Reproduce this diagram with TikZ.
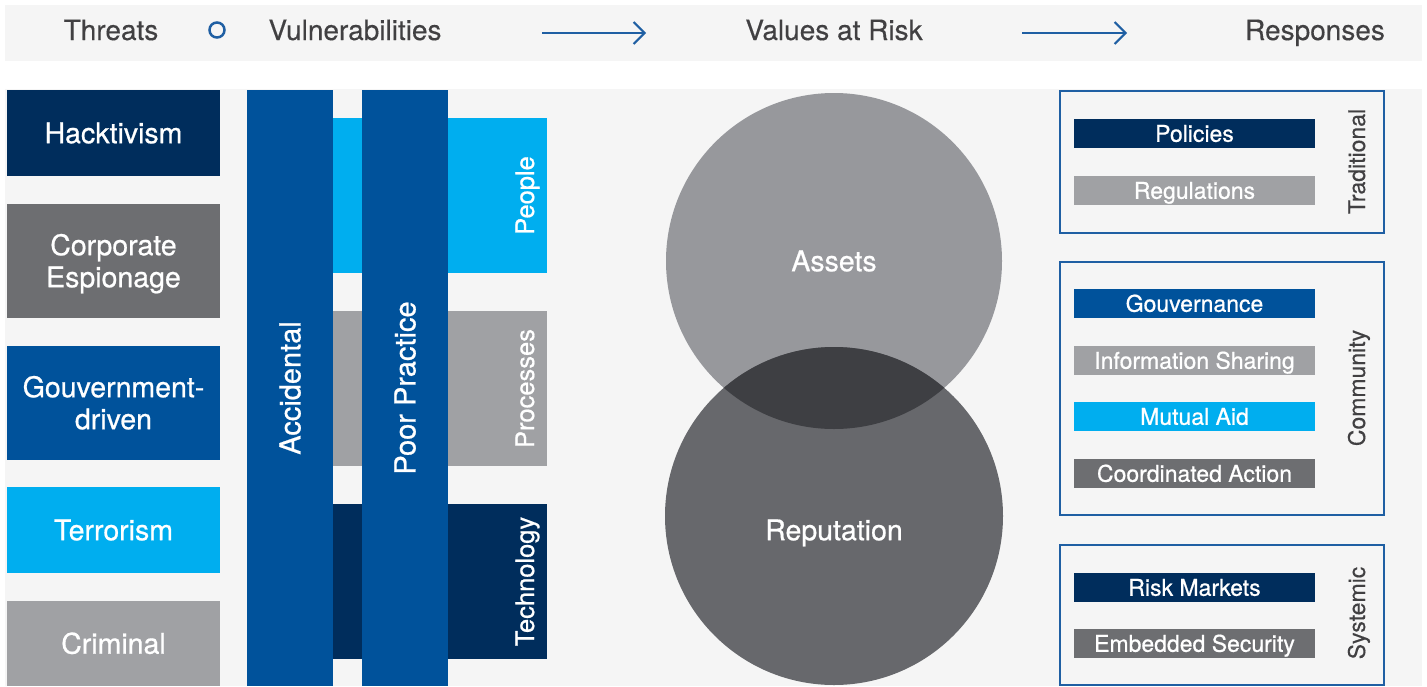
\documentclass[tikz,border=0pt]{standalone}
\usepackage{fontspec}
\setmainfont{TeX Gyre Heros}
\newfontfamily\medf[FakeBold=0.7]{TeX Gyre Heros}
\newfontfamily\hedf[FakeBold=0.3]{TeX Gyre Heros}
\usetikzlibrary{arrows.meta}
\definecolor{navy}{HTML}{002D5C}
\definecolor{blu}{HTML}{00529B}
\definecolor{cyn}{HTML}{00AEEF}
\definecolor{lgray}{HTML}{A0A1A4}
\definecolor{dgray}{HTML}{6D6E71}
\definecolor{bgc}{HTML}{F5F5F5}
\definecolor{txtc}{HTML}{414042}
\definecolor{framec}{HTML}{1F5FA3}
\definecolor{assetc}{HTML}{97989C}
\definecolor{repc}{HTML}{67686C}
\definecolor{overc}{HTML}{3E3F43}
\begin{document}
\begin{tikzpicture}[x=1pt,y=-1pt,
  mfs/.style={font=\medf\fontsize{#1}{#1}\selectfont},
  blk/.style={rectangle,inner sep=0pt,outer sep=0pt,text=white,align=center},
  threat/.style={blk,minimum width=213pt,font=\medf\fontsize{28.5}{32}\selectfont,text height=20.4pt,text depth=0pt},
  threat2/.style={blk,minimum width=213pt,font=\medf\fontsize{28.5}{32}\selectfont,text height=52.4pt,text depth=0pt},
  hbar/.style={blk,minimum width=214pt,minimum height=155pt},
  vbar/.style={blk,fill=blu,minimum width=86pt,minimum height=596pt},
  vlab/.style={rotate=90,text=white,inner sep=0pt,mfs=25.5,anchor=base},
  tall/.style={rotate=90,text=white,inner sep=0pt,mfs=29,text height=20.8pt,text depth=0pt},
  resp/.style={blk,minimum width=241pt,minimum height=29pt,mfs=23,text height=16.5pt,text depth=0pt},
  frm/.style={rectangle,draw=framec,line width=2.5pt,minimum width=324pt,inner sep=0pt},
  slab/.style={rotate=90,text=txtc,inner sep=0pt,font=\hedf\fontsize{23}{23}\selectfont,anchor=base},
  head/.style={text=txtc,inner sep=0pt,font=\hedf\fontsize{28}{28}\selectfont,text height=20pt,text depth=0pt},
  harrow/.style={draw=framec,line width=2pt,-{Straight Barb[length=11pt,width=22pt]}},
  clab/.style={text=white,inner sep=0pt,mfs=28.5,text height=20.4pt,text depth=0pt}]
\useasboundingbox (0,0) rectangle (1427,686);
\fill[white] (0,0) rectangle (1427,686);
% header
\fill[bgc] (5,5) rectangle (1422,61);
\node[head] (hthreat) at (111,30) {Threats};
\node[circle,draw=framec,line width=2.5pt,minimum size=15pt,inner sep=0pt] (hcirc) at (217,30) {};
\node[head] (hvuln) at (355,30) {Vulnerabilities};
\node[head] (hval) at (834,30) {Values at Risk};
\node[head] (hresp) at (1315,30) {Responses};
\coordinate (a1s) at (542,33);
\coordinate (a1e) at (646,33);
\coordinate (a2s) at (1022,33);
\coordinate (a2e) at (1127,33);
\draw[harrow] (a1s) -- (a1e);
\draw[harrow] (a2s) -- (a2e);
% main background
\fill[bgc] (5,89) rectangle (1422,686);
% threats
\node[threat,fill=navy,minimum height=86pt] (hack) at (113.5,133) {Hacktivism};
\node[threat2,fill=dgray,minimum height=114pt] (corp) at (113.5,261) {Corporate\\Espionage};
\node[threat2,fill=blu,minimum height=114pt] (gov) at (113.5,403) {Gouvernment-\\driven};
\node[threat,fill=cyn,minimum height=86pt] (terr) at (113.5,530) {Terrorism};
\node[threat,fill=lgray,minimum height=85pt] (crim) at (113.5,643.5) {Criminal};
% vulnerabilities
\node[hbar,fill=cyn] (people) at (440,195.5) {};
\node[hbar,fill=lgray] (proc) at (440,388.5) {};
\node[hbar,fill=navy] (tech) at (440,581.5) {};
\node[vlab] (lpeople) at (534,195.5) {People};
\node[vlab] (lproc) at (534,388.5) {Processes};
\node[vlab] (ltech) at (534,581.5) {Technology};
\node[vbar] (acc) at (290,388) {};
\node[vbar] (poor) at (405,388) {};
\node[tall] (lacc) at (290,388) {Accidental};
\node[tall] (lpoor) at (405,388) {Poor Practice};
% values at risk
\node[circle,fill=assetc,minimum size=336pt,inner sep=0pt] (assets) at (834,261) {};
\node[circle,fill=repc,minimum size=338pt,inner sep=0pt] (rep) at (834,516) {};
\begin{scope}
\clip (834,261) circle (168);
\fill[overc] (834,516) circle (169);
\end{scope}
\node[clab] (lassets) at (834,261) {Assets};
\node[clab] (lrep) at (834,530) {Reputation};
% responses
\node[frm,minimum height=142pt] (trad) at (1222,162) {};
\node[frm,minimum height=253pt] (comm) at (1222,388.5) {};
\node[frm,minimum height=140pt] (sys) at (1222,615) {};
\node[resp,fill=navy] (pol) at (1194.5,133.5) {Policies};
\node[resp,fill=lgray] (reg) at (1194.5,190.5) {Regulations};
\node[resp,fill=blu] (gouv) at (1194.5,303.5) {Gouvernance};
\node[resp,fill=lgray] (info) at (1194.5,360.5) {Information Sharing};
\node[resp,fill=cyn] (mut) at (1194.5,416.5) {Mutual Aid};
\node[resp,fill=dgray] (coord) at (1194.5,473.5) {Coordinated Action};
\node[resp,fill=navy] (riskm) at (1194.5,587.5) {Risk Markets};
\node[resp,fill=dgray] (emb) at (1194.5,643.5) {Embedded Security};
\node[slab] (ltrad) at (1365,161.5) {Traditional};
\node[slab] (lcomm) at (1365,388) {Community};
\node[slab] (lsys) at (1365,613) {Systemic};
\end{tikzpicture}
\end{document}
